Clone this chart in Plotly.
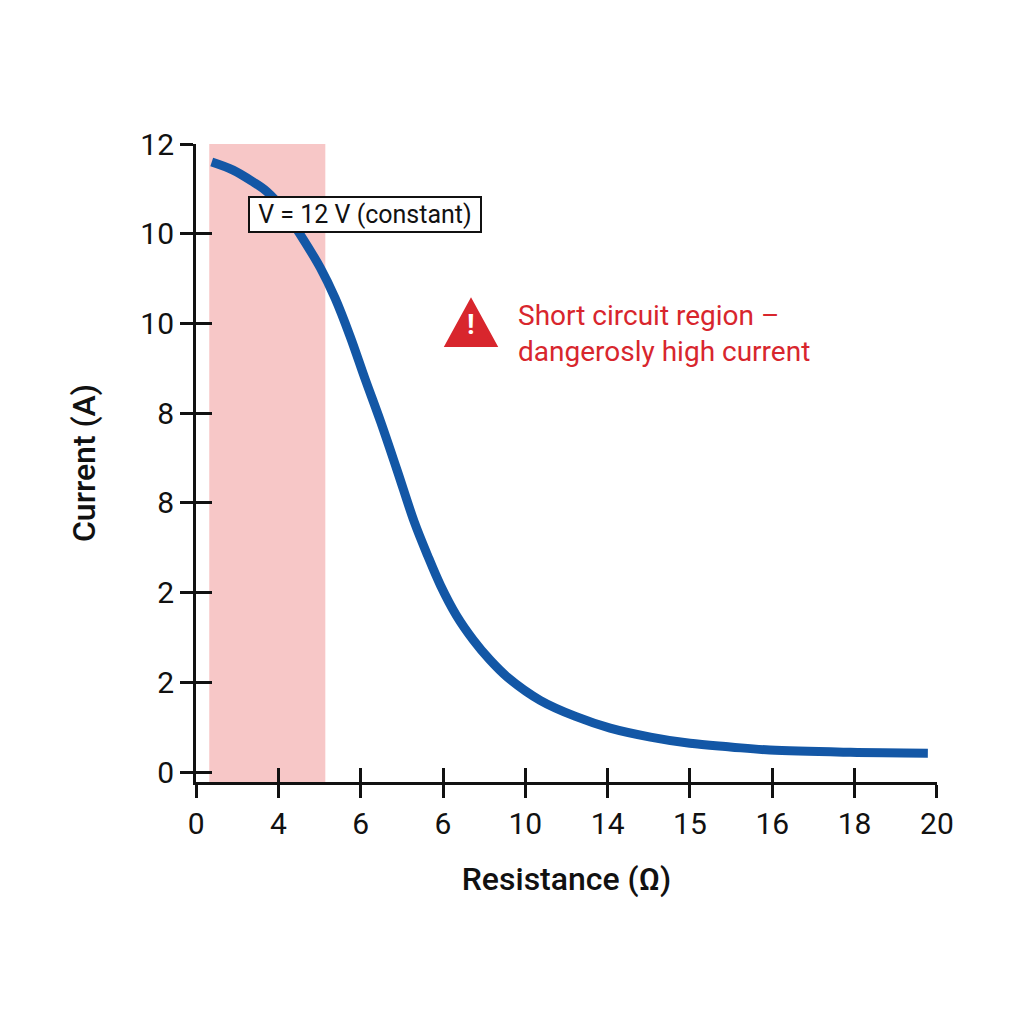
import plotly.graph_objects as go

# tick positions (evenly spaced) and the labels printed on them
x_ticks = [0, 1, 2, 3, 4, 5, 6, 7, 8, 9]
x_ticktext = ["0", "4", "6", "6", "10", "14", "15", "16", "18", "20"]
y_ticks = [0, 1, 2, 3, 4, 5, 6, 7]
y_ticktext = ["0", "2", "2", "8", "8", "10", "10", "12"]

# current curve (in tick units)
resistance = [0.19, 0.45, 0.69, 0.86, 1.08, 1.26, 1.51, 1.69, 1.87, 2.05, 2.24, 2.44, 2.65,
              2.81, 2.97, 3.16, 3.37, 3.57, 3.78, 4.18, 4.61, 5.03, 5.52, 6.00, 6.49,
              6.97, 7.95, 8.89]
current = [6.80, 6.71, 6.58, 6.47, 6.25, 6.00, 5.62, 5.28, 4.86, 4.39, 3.91, 3.37, 2.79,
           2.42, 2.08, 1.75, 1.47, 1.25, 1.06, 0.80, 0.62, 0.49, 0.39, 0.32, 0.28,
           0.245, 0.22, 0.21]

# short circuit band
short_region = [0.16, 1.57]

blue = "#1357a6"
red = "#d8262d"
font = "Roboto"

x_range = [-0.001, 9.001]
y_range = [-0.111, 7.001]

fig = go.Figure()

fig.add_trace(go.Scatter(
    x=resistance, y=current, mode="lines",
    line=dict(color=blue, width=9, shape="spline", smoothing=1.0),
    hoverinfo="skip", showlegend=False))

# invisible point so the overlay axes (crossing ticks) get drawn
fig.add_trace(go.Scatter(x=[0], y=[0], mode="markers", marker=dict(opacity=0),
                         xaxis="x2", yaxis="y2", hoverinfo="skip", showlegend=False))

fig.add_shape(type="rect", xref="x", yref="y domain",
              x0=short_region[0], x1=short_region[1], y0=0, y1=1,
              fillcolor="#f7c7c7", line_width=0, layer="below")

# warning icon
fig.add_shape(type="path", xref="x", yref="y", xsizemode="pixel", ysizemode="pixel",
              xanchor=3.34, yanchor=5.0,
              path="M -23 -21 L 23 -21 L 0 21 Z",
              fillcolor=red, line=dict(color=red, width=5))
fig.add_annotation(x=3.34, y=5.0, xref="x", yref="y", showarrow=False, yshift=-1,
                   text="<b>!</b>", font=dict(size=28, color="white", family=font))

fig.add_annotation(
    x=2.05, y=6.21, xref="x", yref="y", showarrow=False,
    text="&nbsp;V = 12 V (constant)&nbsp;", font=dict(size=25, color="#111", family=font),
    bgcolor="white", bordercolor="#111", borderwidth=2, borderpad=2)

fig.add_annotation(
    x=3.89, y=4.89, xref="x", yref="y", showarrow=False,
    xanchor="left", align="left",
    text="Short circuit region \u2013<br>dangerosly high current",
    font=dict(size=28, color=red, family=font))

axis_common = dict(showgrid=False, zeroline=False, showline=True,
                   linecolor="#111", linewidth=3, tickcolor="#111", tickwidth=3)

fig.update_layout(
    width=1024, height=1024,
    margin=dict(l=188, r=95, t=136, b=250),
    paper_bgcolor="white", plot_bgcolor="white",
    font=dict(family=font, color="#111"),
    xaxis=dict(range=x_range, tickmode="array", tickvals=x_ticks, ticktext=x_ticktext,
               ticks="outside", ticklen=13, tickfont=dict(size=30),
               title=dict(text="Resistance (\u03a9)", font=dict(size=32, weight=500), standoff=28),
               **axis_common),
    yaxis=dict(range=y_range, tickmode="array", tickvals=y_ticks, ticktext=y_ticktext,
               ticks="outside", ticklen=13, tickfont=dict(size=30),
               title=dict(text="Current (A)", font=dict(size=32, weight=500), standoff=36),
               **axis_common),
    xaxis2=dict(range=x_range, overlaying="x", anchor="y2", tickmode="array",
                tickvals=x_ticks, ticks="inside", ticklen=14, showticklabels=False,
                **axis_common),
    yaxis2=dict(range=y_range, overlaying="y", anchor="x2", tickmode="array",
                tickvals=y_ticks, ticks="inside", ticklen=16, showticklabels=False,
                **axis_common),
)

fig.write_html("out.html")
